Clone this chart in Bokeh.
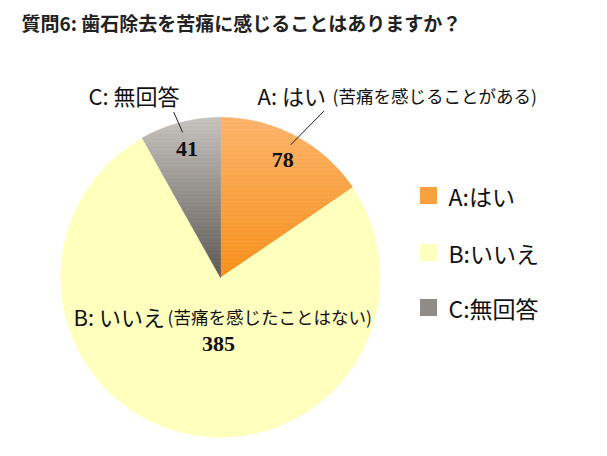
import numpy as np
from bokeh.plotting import figure
from bokeh.models import Range1d
from bokeh.core.properties import value
from bokeh.embed import file_html
from bokeh.resources import INLINE

# data
categories = ["A", "B", "C"]
counts = [78, 385, 41]
legend_labels = ["A:はい", "B:いいえ", "C:無回答"]
callout_main = ["A: はい", "B: いいえ", "C: 無回答"]
callout_note = ["(苦痛を感じることがある)", "(苦痛を感じたことはない)", ""]
# top / bottom colour of each slice's vertical gradient
top_colors = ["#fcb46a", "#ffffbe", "#c6c2be"]
bottom_colors = ["#f7901a", "#ffffbe", "#5c5753"]
legend_colors = ["#f9a03f", "#ffffbe", "#8f8b87"]
title = "質問6: 歯石除去を苦痛に感じることはありますか？"

JP = "Noto Sans CJK JP"
NUM = "Liberation Serif"

W, H = 600, 450


def sy(y):
    # page y (px from top) -> data y
    return 456 - y


def hex_rgb(h):
    return np.array([int(h[k:k + 2], 16) for k in (1, 3, 5)], dtype=float)


def clip(poly, y0, y1):
    # keep the part of a convex polygon between y0 and y1
    def half(pts, keep, cross):
        out = []
        for k in range(len(pts)):
            a, b = pts[k - 1], pts[k]
            if keep(b):
                if not keep(a):
                    out.append(cross(a, b))
                out.append(b)
            elif keep(a):
                out.append(cross(a, b))
        return out

    def at(yc):
        return lambda a, b: (a[0] + (b[0] - a[0]) * (yc - a[1]) / (b[1] - a[1]), yc)

    pts = half(poly, lambda q: q[1] >= y0, at(y0))
    if pts:
        pts = half(pts, lambda q: q[1] <= y1, at(y1))
    return pts


p = figure(width=W, height=H, output_backend="svg", toolbar_location=None,
           x_range=Range1d(0, W), y_range=Range1d(456 - H, 456),
           min_border=0, outline_line_color=None)
p.axis.visible = False
p.grid.visible = False

cx, cy, R = 220, sy(277), 160

counts_arr = np.array(counts, dtype=float)
angles = counts_arr / counts_arr.sum() * 2 * np.pi
ends = np.pi / 2 - np.cumsum(angles)
starts = ends + angles
mids = (starts + ends) / 2

# slices go clockwise from 12 o'clock
for i, c in enumerate(categories):
    if top_colors[i] == bottom_colors[i]:
        p.wedge(x=cx, y=cy, radius=R, start_angle=ends[i], end_angle=starts[i],
                fill_color=top_colors[i], line_color=None)
        continue
    t = np.linspace(ends[i], starts[i], 80)
    poly = [(cx, cy)] + list(zip(cx + R * np.cos(t), cy + R * np.sin(t)))
    ys = [q[1] for q in poly]
    lo, hi = min(ys), cy + R
    nb = 40
    edges = np.linspace(lo, hi, nb + 1)
    c0, c1 = hex_rgb(top_colors[i]), hex_rgb(bottom_colors[i])
    xs_l, ys_l, cols = [], [], []
    for k in range(nb):
        part = clip(poly, edges[k], edges[k + 1])
        if len(part) < 3:
            continue
        f = 1 - ((edges[k] + edges[k + 1]) / 2 - cy) / R
        rgb = c0 + (c1 - c0) * min(max(f, 0), 1)
        xs_l.append([q[0] for q in part])
        ys_l.append([q[1] for q in part])
        cols.append("#%02x%02x%02x" % tuple(int(v) for v in rgb))
    p.patches(xs_l, ys_l, fill_color=cols, line_color=cols, line_width=0.6)

# value labels
num_r = [133, 0, 133]
for i, n in enumerate(counts):
    if categories[i] == "B":
        x, y = cx - 2, cy - 66
    else:
        x, y = cx + num_r[i] * np.cos(mids[i]), cy + num_r[i] * np.sin(mids[i])
    p.text(x=[x], y=[y], text=[str(n)], text_font=value(NUM), text_font_style="bold",
           text_font_size="22px", text_align="center", text_baseline="middle",
           text_color="#111111")

# leader lines for A and C
for i in (0, 2):
    a = mids[i] - (0.07 if categories[i] == "A" else -0.02)
    r0, r1 = 150, (196 if categories[i] == "A" else 172)
    p.line(x=[cx + r0 * np.cos(mids[i]), cx + r1 * np.cos(a)],
           y=[cy + r0 * np.sin(mids[i]), cy + r1 * np.sin(a)],
           line_color="#222222", line_width=1)

# callout texts
lab_pos = {"A": (257, 332, 94), "B": (73, 167, 315), "C": (88, None, 94)}
for i, c in enumerate(categories):
    x0, x1, y = lab_pos[c]
    p.text(x=[x0], y=[sy(y)], text=[callout_main[i]], text_font=value(JP),
           text_font_size="22px", text_baseline="middle", text_color="#111111")
    if callout_note[i]:
        p.text(x=[x1], y=[sy(y + 1)], text=[callout_note[i]], text_font=value(JP),
               text_font_size="17.5px", text_baseline="middle", text_color="#111111")

# legend
leg_y = [195, 252, 307]
p.scatter(x=[428] * 3, y=[sy(v) for v in leg_y], marker="square", size=17,
          fill_color=legend_colors, line_color=None)
p.text(x=[448] * 3, y=[sy(v) for v in leg_y], text=legend_labels, text_font=value(JP),
       text_font_size="23px", text_baseline="middle", text_color="#111111")

# title
p.text(x=[21], y=[sy(22)], text=[title], text_font=value(JP), text_font_style="bold",
       text_font_size="19px", text_baseline="middle", text_color="#222222")

open("out.html", "w").write(file_html(p, INLINE))
